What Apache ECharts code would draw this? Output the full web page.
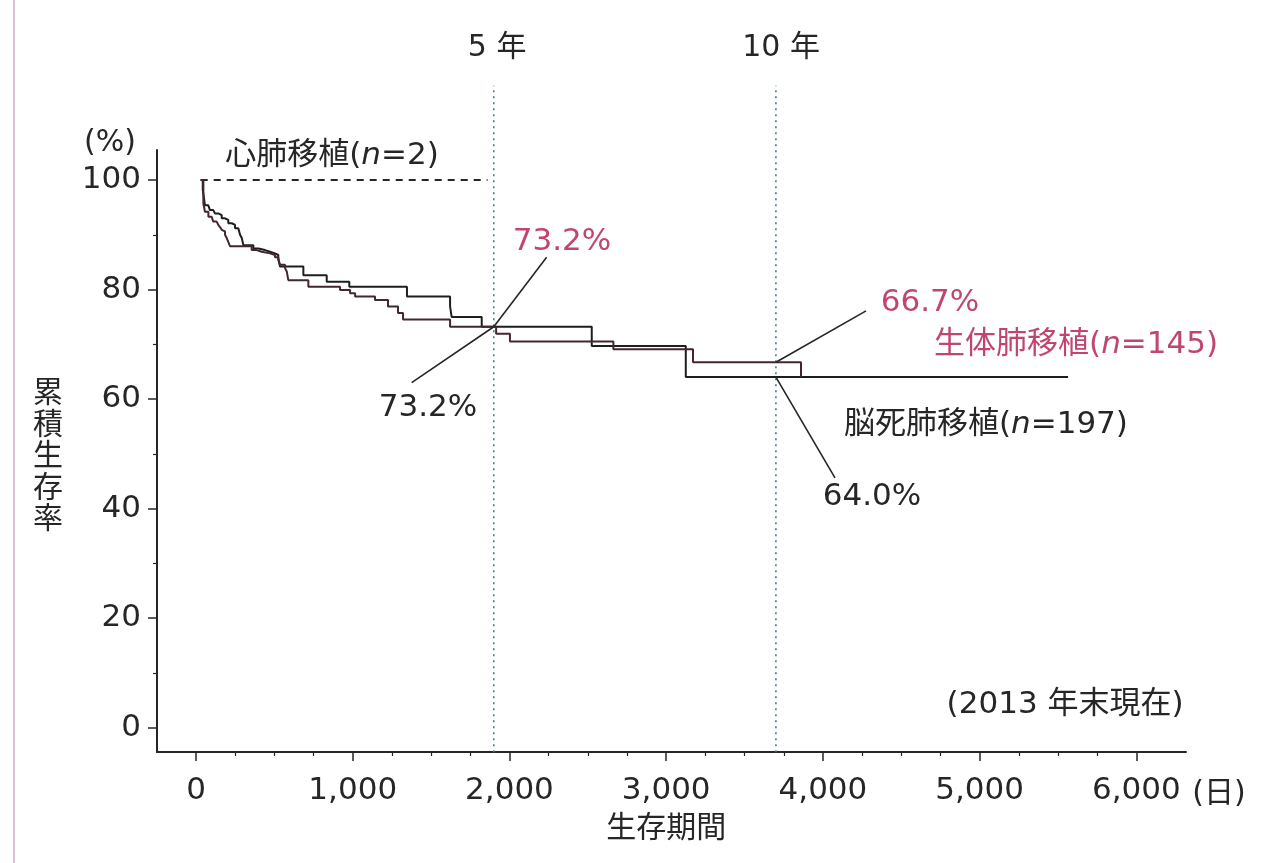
<!DOCTYPE html>
<html>
<head>
<meta charset="utf-8">
<script src="https://cdn.jsdelivr.net/npm/echarts@6/dist/echarts.min.js"></script>
<style>
html, body { margin: 0; padding: 0; background: #fff; }
#chart { width: 1263px; height: 863px; }
</style>
</head>
<body>
<div id="chart"></div>
<script>
// Kaplan–Meier steps: day of each drop and the cumulative survival (%) after it
const livingDays = [30, 47, 57, 79, 100, 110, 132, 142, 153, 164, 174, 185, 196, 206, 217, 355, 387, 419, 472, 504, 525, 536, 568, 579, 589, 717, 919, 983, 1015, 1142, 1225, 1289, 1321, 1621, 1915, 2003, 2663, 3171, 3860];
const livingSurv = [100, 95.7, 94.2, 93.3, 93.0, 92.4, 92.1, 91.8, 91.4, 90.9, 90.6, 90.0, 89.4, 88.7, 87.9, 87.2, 86.9, 86.6, 86.3, 85.9, 85.4, 84.5, 83.9, 83.3, 81.7, 80.5, 79.9, 79.3, 78.7, 78.1, 76.9, 75.7, 74.5, 73.2, 71.9, 70.5, 69.1, 66.7, 64.0];

const deceasedDays = [30, 43, 51, 57, 78, 89, 110, 121, 142, 164, 185, 206, 228, 249, 270, 281, 292, 302, 366, 398, 440, 472, 504, 525, 536, 685, 834, 978, 1346, 1621, 1631, 1823, 2525, 3125, 5564];
const deceasedSurv = [100, 98.2, 96.7, 95.4, 95.1, 94.5, 94.2, 93.9, 93.6, 93.0, 92.7, 92.1, 91.8, 91.2, 90.9, 90.0, 89.4, 88.1, 87.5, 87.2, 86.9, 86.6, 86.3, 85.8, 84.2, 82.6, 81.4, 80.5, 78.7, 76.9, 75.0, 73.2, 69.7, 64.0, 64.0];

const heartLungDays = [30, 1860];
const heartLungSurv = [100, 100];

// 5-year and 10-year reference lines
const yearDays = [1900, 3700];
const yearLabels = ['5 年', '10 年'];
const fiveYearSurv = { living: 73.2, deceased: 73.2 };
const tenYearSurv = { living: 66.7, deceased: 64.0 };

const xTickLabels = ['0', '1,000', '2,000', '3,000', '4,000', '5,000', '6,000'];
const yTickLabels = ['0', '20', '40', '60', '80', '100'];

const FONT = "'DejaVu Sans', 'Noto Sans CJK JP', sans-serif";
const JP = "'Noto Sans CJK JP', sans-serif";
const INK = '#262626';
const PINK = '#c0466f';

const zip = (a, b) => a.map((v, i) => [v, b[i]]);

const chart = echarts.init(document.getElementById('chart'), null, { renderer: 'canvas' });

const rich = {
  k: { fontFamily: FONT, fontSize: 31, fill: INK, color: INK },
  ki: { fontFamily: FONT, fontSize: 31, fill: INK, color: INK, fontStyle: 'italic' },
  p: { fontFamily: FONT, fontSize: 31, fill: PINK, color: PINK },
  pi: { fontFamily: FONT, fontSize: 31, fill: PINK, color: PINK, fontStyle: 'italic' },
  y: { fontFamily: FONT, fontSize: 30, fill: INK, color: INK }
};

// text notes anchored in data space (day, %)
const notes = [
  { at: [868, 104.4], text: '{k|心肺移植(}{ki|n}{k|=2)}' },
  { at: [2335, 88.7], text: '{p|' + fiveYearSurv.living.toFixed(1) + '%}' },
  { at: [1480, 58.4], text: '{k|' + fiveYearSurv.deceased.toFixed(1) + '%}' },
  { at: [4683, 77.5], text: '{p|' + tenYearSurv.living.toFixed(1) + '%}' },
  { at: [5615, 69.9], text: '{p|生体肺移植(}{pi|n}{p|=145)}' },
  { at: [5040, 55.3], text: '{k|脳死肺移植(}{ki|n}{k|=197)}' },
  { at: [4313, 42.1], text: '{k|' + tenYearSurv.deceased.toFixed(1) + '%}' },
  { at: [5545, 4.1], text: '{k|(2013 年末現在)}' },
  { at: [yearDays[0] + 21, 124.1], text: '{y|' + yearLabels[0] + '}' },
  { at: [yearDays[1] + 33, 124.1], text: '{y|' + yearLabels[1] + '}' },
  { at: [-549, 106.7], text: '{y|(%)}' },
  { at: [6527, -12.1], text: '{y|(日)}' }
];

const leader = (from, to) => ({
  type: 'line', xAxisIndex: 1, yAxisIndex: 1, data: [from, to],
  showSymbol: false, silent: true, clip: false,
  lineStyle: { color: INK, width: 1.6 }, z: 4
});

const yearLine = (d) => ({
  type: 'line', xAxisIndex: 1, yAxisIndex: 1, data: [[d, -4.5], [d, 117.2]],
  showSymbol: false, silent: true, clip: false,
  lineStyle: { color: '#3f7f8c', width: 1.6, type: [2, 4] }, z: 1
});

const option = {
  animation: false,
  backgroundColor: '#fff',
  grid: [
    // frame: the two axis lines
    { left: 157, top: 150, width: 1029, height: 602, outerBoundsMode: 'none', containLabel: false },
    // data area: 0–6000 days by 0–100 %
    { left: 196, top: 180, width: 940.4, height: 547.5, outerBoundsMode: 'none', containLabel: false }
  ],
  xAxis: [
    { gridIndex: 0, type: 'value', min: -250, max: 6320,
      axisLine: { show: true, onZero: false, lineStyle: { color: INK, width: 2 } },
      axisTick: { show: false }, axisLabel: { show: false }, splitLine: { show: false } },
    { gridIndex: 1, type: 'value', min: 0, max: 6000, interval: 1000, offset: 24.5,
      axisLine: { show: false, onZero: false },
      axisTick: { show: true, length: 9, lineStyle: { color: INK, width: 1.5 } },
      minorTick: { show: true, splitNumber: 4, length: 4, lineStyle: { color: INK, width: 1.2 } },
      splitLine: { show: false }, minorSplitLine: { show: false },
      axisLabel: { margin: 23, fontFamily: FONT, fontSize: 31, color: INK,
        formatter: (v) => xTickLabels[Math.round(v / 1000)] },
      name: '生存期間', nameLocation: 'middle', nameGap: 58,
      nameTextStyle: { fontFamily: JP, fontSize: 30, color: INK } }
  ],
  yAxis: [
    { gridIndex: 0, type: 'value', min: -4.5, max: 105.5,
      axisLine: { show: true, onZero: false, lineStyle: { color: INK, width: 2 } },
      axisTick: { show: false }, axisLabel: { show: false }, splitLine: { show: false } },
    { gridIndex: 1, type: 'value', min: 0, max: 100, interval: 20, offset: 39,
      axisLine: { show: false, onZero: false },
      axisTick: { show: true, length: 9, lineStyle: { color: INK, width: 1.5 } },
      minorTick: { show: true, splitNumber: 2, length: 4, lineStyle: { color: INK, width: 1.2 } },
      splitLine: { show: false }, minorSplitLine: { show: false },
      axisLabel: { margin: 16, fontFamily: FONT, fontSize: 31, color: INK,
        formatter: (v) => yTickLabels[Math.round(v / 20)] },
      name: '累\n積\n生\n存\n率', nameLocation: 'middle', nameGap: 94, nameRotate: 0,
      nameTextStyle: { fontFamily: JP, fontSize: 30, lineHeight: 31.5, color: INK } }
  ],
  series: [
    yearLine(yearDays[0]),
    yearLine(yearDays[1]),
    {
      name: '心肺移植', type: 'line', xAxisIndex: 1, yAxisIndex: 1,
      data: zip(heartLungDays, heartLungSurv), showSymbol: false, silent: true,
      lineStyle: { color: INK, width: 1.8, type: [7, 6] }, z: 3
    },
    {
      name: '脳死肺移植', type: 'line', step: 'end', xAxisIndex: 1, yAxisIndex: 1,
      data: zip(deceasedDays, deceasedSurv), showSymbol: false, silent: true,
      lineStyle: { color: '#1e1e1e', width: 2 }, z: 3
    },
    {
      name: '生体肺移植', type: 'line', step: 'end', xAxisIndex: 1, yAxisIndex: 1,
      data: zip(livingDays, livingSurv), showSymbol: false, silent: true,
      lineStyle: { color: '#442632', width: 2 }, z: 3
    },
    leader([2237, 85.9], [yearDays[0], fiveYearSurv.living]),
    leader([1376, 63.0], [yearDays[0], fiveYearSurv.deceased]),
    leader([4275, 76.1], [yearDays[1], tenYearSurv.living]),
    leader([4077, 45.6], [yearDays[1], tenYearSurv.deceased])
  ]
};

chart.setOption(option);

// place the notes through the data grid's scales
const noteGraphics = notes.map(n => {
  const [px, py] = chart.convertToPixel({ gridIndex: 1 }, n.at);
  return {
    type: 'text', x: px, y: py, silent: true, z: 10,
    style: {
      text: n.text, rich: rich,
      align: 'center', verticalAlign: 'middle',
      textAlign: 'center', textVerticalAlign: 'middle'
    }
  };
});

chart.setOption({
  graphic: [
    { type: 'line', shape: { x1: 14, y1: 0, x2: 14, y2: 863 }, style: { stroke: '#dcc0d6', lineWidth: 2 }, silent: true }
  ].concat(noteGraphics)
});
</script>
</body>
</html>
